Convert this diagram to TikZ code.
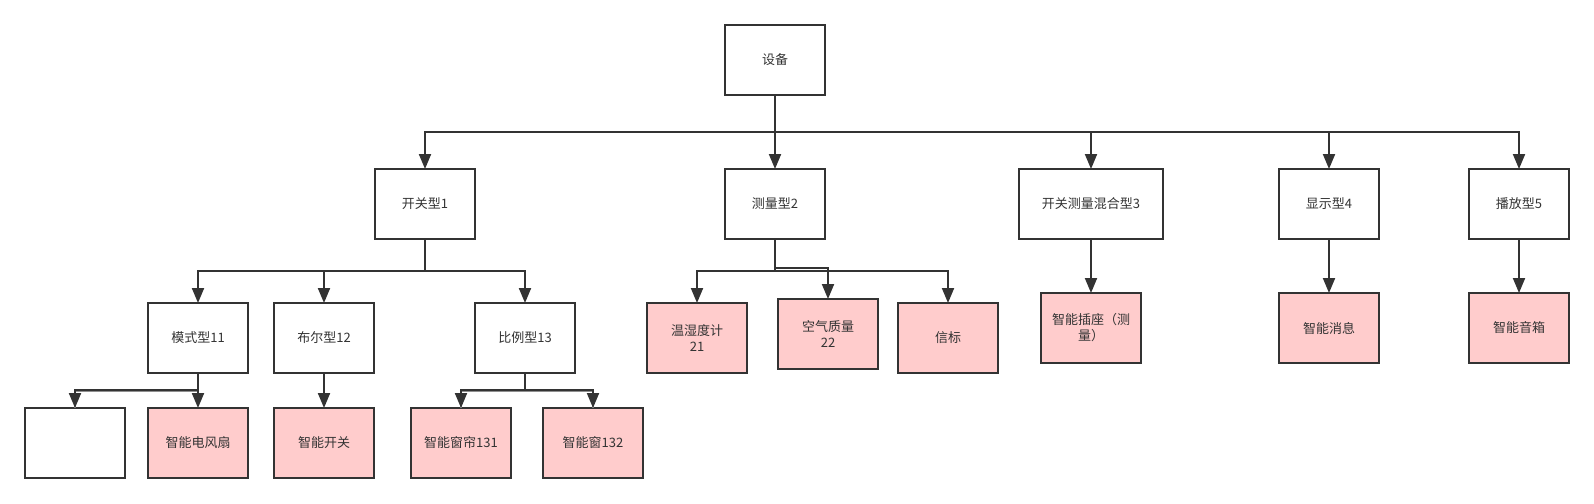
\documentclass[tikz,border=0pt]{standalone}
\usepackage{fontspec}
\newfontfamily\cjk{Noto Sans CJK SC}
\usetikzlibrary{arrows.meta}
\definecolor{ln}{HTML}{333333}
\definecolor{pk}{HTML}{FFCCCC}
\begin{document}
\begin{tikzpicture}[x=1pt,y=-1pt,
  box/.style={draw=ln, line width=2pt, minimum width=100pt, minimum height=70pt,
    inner sep=0pt, outer sep=0pt, text=ln, font=\cjk\fontsize{13}{16}\selectfont,
    align=center, fill=white},
  leaf/.style={box, fill=pk},
  edge/.style={draw=ln, line width=2pt, -{Triangle[length=15pt,width=12pt]}},
  ghost/.style={draw=ln!55, line width=1.4pt},
]
\useasboundingbox[fill=white] (0,0) rectangle (1594,503);

% nodes
\node[box] (dev) at (775,60) {设备};
\node[box] (t1) at (425,204) {开关型1};
\node[box] (t2) at (775,204) {测量型2};
\node[box, minimum width=144pt] (t3) at (1091,204) {开关测量混合型3};
\node[box] (t4) at (1329,204) {显示型4};
\node[box] (t5) at (1519,204) {播放型5};

\node[box] (m11) at (198,338) {模式型11};
\node[box] (b12) at (324,338) {布尔型12};
\node[box] (p13) at (525,338) {比例型13};

\node[box] (e0) at (75,443) {};
\node[leaf] (fan) at (198,443) {智能电风扇};
\node[leaf] (sw) at (324,443) {智能开关};
\node[leaf] (c131) at (461,443) {智能窗帘131};
\node[leaf] (w132) at (593,443) {智能窗132};

\node[leaf] (th) at (697,338) {温湿度计\\21};
\node[leaf] (air) at (828,334) {空气质量\\22};
\node[leaf] (bea) at (948,338) {信标};

\node[leaf] (plug) at (1091,328) {智能插座（测\\量）};
\node[leaf] (msg) at (1329,328) {智能消息};
\node[leaf] (spk) at (1519,328) {智能音箱};

% bus coordinates
\coordinate (bus0) at (775,132);
\coordinate (bus1) at (425,271);
\coordinate (bus2) at (775,271);
\coordinate (bus2b) at (775,268);
\coordinate (bus11) at (198,389.5);
\coordinate (bus11g) at (198,391.5);
\coordinate (bus13) at (525,389.5);
\coordinate (bus13g) at (525,391.5);

% level 1
\draw[edge] (dev.south) -- (bus0) -| (t1.north);
\draw[edge] (dev.south) -- (t2.north);
\draw[edge] (dev.south) -- (bus0) -| (t3.north);
\draw[edge] (dev.south) -- (bus0) -| (t4.north);
\draw[edge] (dev.south) -- (bus0) -| (t5.north);

% under t1
\draw[edge] (t1.south) -- (bus1) -| (m11.north);
\draw[edge] (t1.south) -- (bus1) -| (b12.north);
\draw[edge] (t1.south) -- (bus1) -| (p13.north);

% under t2
\draw[edge] (t2.south) -- (bus2) -| (th.north);
\draw[edge] (t2.south) -- (bus2b) -| (air.north);
\draw[edge] (t2.south) -- (bus2) -| (bea.north);

% single children
\draw[edge] (t3.south) -- (plug.north);
\draw[edge] (t4.south) -- (msg.north);
\draw[edge] (t5.south) -- (spk.north);
\draw[edge] (b12.south) -- (sw.north);

% under m11
\draw[ghost] (m11.south) -- (bus11g) -| (e0.north);
\draw[edge] (m11.south) -- (bus11) -| (e0.north);
\draw[edge] (m11.south) -- (fan.north);

% under p13
\draw[ghost] (p13.south) -- (bus13g) -| (c131.north);
\draw[ghost] (p13.south) -- (bus13g) -| (w132.north);
\draw[edge] (p13.south) -- (bus13) -| (c131.north);
\draw[edge] (p13.south) -- (bus13) -| (w132.north);
\end{tikzpicture}
\end{document}
